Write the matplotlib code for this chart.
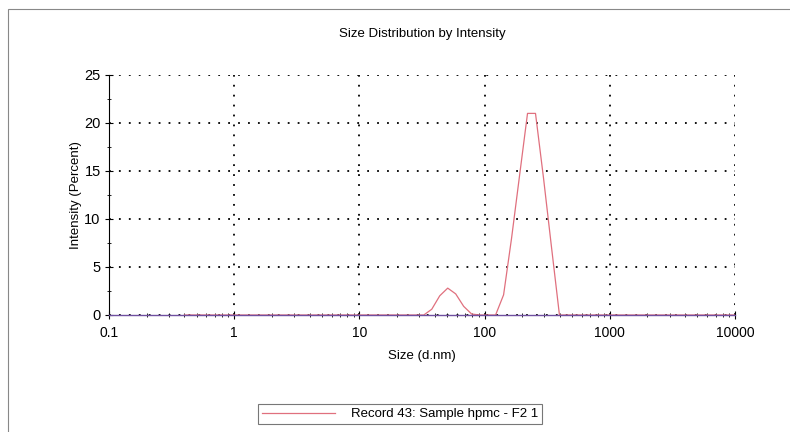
import matplotlib.pyplot as plt
from matplotlib.patches import Rectangle
from matplotlib.ticker import LogLocator, FixedLocator, NullFormatter

plt.rcParams['font.family'] = ['Liberation Sans', 'DejaVu Sans']

# Größenklassen (d.nm) und Intensität (%)
size_nm = [0.4, 24.36, 28.21, 32.67, 37.84, 43.82, 50.75, 58.77, 68.06, 78.82, 91.28,
           105.7, 122.4, 141.8, 164.2, 190.1, 220.2, 255.0, 295.3, 342.0, 396.1,
           458.7, 10000]
intensity = [0, 0, 0, 0, 0.6, 2.0, 2.8, 2.2, 0.9, 0.1, 0,
             0, 0, 2.1, 8.0, 14.5, 21.0, 21.0, 14.3, 7.1, 0,
             0, 0]

x_ticks = [0.1, 1, 10, 100, 1000, 10000]
x_labels = ['0.1', '1', '10', '100', '1000', '10000']
y_ticks = [0, 5, 10, 15, 20, 25]

fig = plt.figure(figsize=(7.9, 4.32), dpi=100)
ax = fig.add_axes([109/790, 1 - 315/432, (735 - 109)/790, (315 - 75)/432])

ax.plot(size_nm, intensity, color='#e0707e', linewidth=0.9, label='Record 43: Sample hpmc - F2 1')

ax.set_xscale('log')
ax.set_xlim(0.1, 10000)
ax.set_ylim(0, 25)
ax.set_xticks(x_ticks)
ax.set_xticklabels(x_labels)
ax.xaxis.set_minor_locator(LogLocator(base=10, subs=range(2, 10), numticks=20))
ax.xaxis.set_minor_formatter(NullFormatter())
ax.set_yticks(y_ticks)
ax.yaxis.set_minor_locator(FixedLocator([2.5, 7.5, 12.5, 17.5, 22.5]))

ax.tick_params(axis='both', which='major', direction='inout', length=6, width=0.8,
               labelsize=10, colors='black')
ax.tick_params(axis='both', which='minor', direction='inout', length=3.5, width=0.6)
ax.tick_params(axis='x', which='major', pad=5)
ax.tick_params(axis='y', labelsize=10.5, pad=3)

ax.grid(True, which='major', linestyle=(0, (1, 4.5)), color='black', linewidth=1.3)

for s in ['top', 'right']:
    ax.spines[s].set_visible(False)
ax.spines['left'].set_linewidth(0.8)
ax.spines['bottom'].set_color('#7050a0')
ax.spines['bottom'].set_linewidth(1.0)

ax.set_title('Size Distribution by Intensity', fontsize=9.5, pad=27)
ax.set_xlabel('Size (d.nm)', fontsize=9.5, labelpad=7)
ax.set_ylabel('Intensity (Percent)', fontsize=9.5, labelpad=2)

leg = fig.legend(loc='center', bbox_to_anchor=(400/790, 1 - 414/432), fontsize=9.5,
                 frameon=True, fancybox=False, edgecolor='#555555', handlelength=5.5,
                 borderpad=0.3, handletextpad=1.2)
leg.get_frame().set_linewidth(0.8)

# Rahmen um das ganze Bild
fig.patches.append(Rectangle((8/790, -0.1), 1.0, 1 - 9/432 + 0.1, transform=fig.transFigure,
                             fill=False, edgecolor='#888888', linewidth=0.8))

fig.savefig('out.png', dpi=100)
